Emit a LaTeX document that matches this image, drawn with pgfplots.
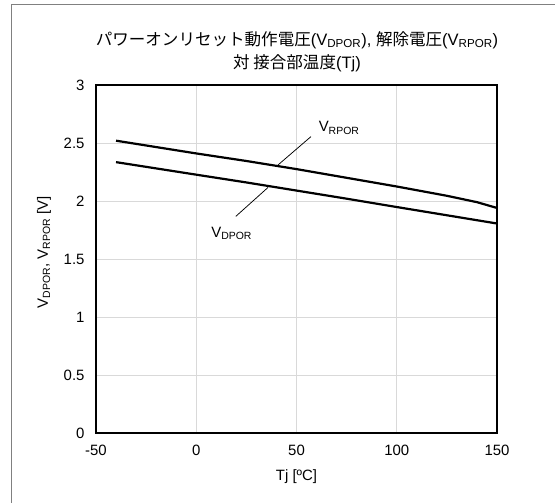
\documentclass[border=0pt]{standalone}
\usepackage{fontspec}
\setmainfont{Liberation Sans}
\newfontfamily\jp{Noto Sans CJK JP}
\usepackage{pgfplots}
\pgfplotsset{compat=1.18}

\begin{document}
\begin{tikzpicture}[x=1bp,y=1bp]
\useasboundingbox (0,0) rectangle (555,-503);
\draw[black!50, line width=1bp] (11.5,-503) -- (11.5,-4.5) -- (555,-4.5);
\node[font=\fontsize{16.6}{19}\selectfont] at (297,-40) {{\jp パワーオンリセット動作電圧}(V\textsubscript{DPOR}), {\jp 解除電圧}(V\textsubscript{RPOR})};
\node[font=\fontsize{16.6}{19}\selectfont] at (297,-63) {{\jp 対 接合部温度}(Tj)};
\begin{axis}[
  at={(96bp,-433bp)}, anchor=south west,
  width=401bp, height=348bp, scale only axis,
  xmin=-50, xmax=150, ymin=0, ymax=3,
  xtick={-50,0,50,100,150}, ytick={0,0.5,1,1.5,2,2.5,3},
  grid=major, major grid style={draw=black!15, line width=0.8bp},
  axis line style={line width=1.5bp},
  major tick length=0,
  tick label style={font=\fontsize{15}{18}\selectfont},
  /pgf/number format/assume math mode=true,
  yticklabel style={xshift=-8bp},
  xticklabel style={yshift=-9bp},
  xlabel={Tj [ºC]},
  ylabel={V\textsubscript{DPOR}, V\textsubscript{RPOR} [V]},
  every axis x label/.style={at={(axis description cs:0.5,-0.1256)}, anchor=center, font=\fontsize{15}{18}\selectfont},
  every axis y label/.style={at={(axis description cs:-0.1297,0.52)}, anchor=center, rotate=90, font=\fontsize{15}{18}\selectfont},
]
\addplot[black, line width=2.2bp] coordinates {
  (-40,2.52) (0,2.41) (25,2.345) (50,2.275) (75,2.20) (100,2.125) (125,2.045) (140,1.99) (150,1.94)
};
\addplot[black, line width=2.2bp] coordinates {
  (-40,2.335) (0,2.227) (25,2.16) (50,2.09) (75,2.02) (100,1.948) (125,1.877) (150,1.806)
};
\draw[black, line width=0.75bp] (axis cs:57.2,2.555) -- (axis cs:40.8,2.311);
\draw[black, line width=0.75bp] (axis cs:19.7,1.867) -- (axis cs:35.8,2.117);
\node[anchor=west, inner sep=0, font=\fontsize{15}{18}\selectfont] at (axis cs:61,2.63) {V\textsubscript{RPOR}};
\node[anchor=west, inner sep=0, font=\fontsize{15}{18}\selectfont] at (axis cs:7.4,1.72) {V\textsubscript{DPOR}};
\end{axis}
\end{tikzpicture}
\end{document}
